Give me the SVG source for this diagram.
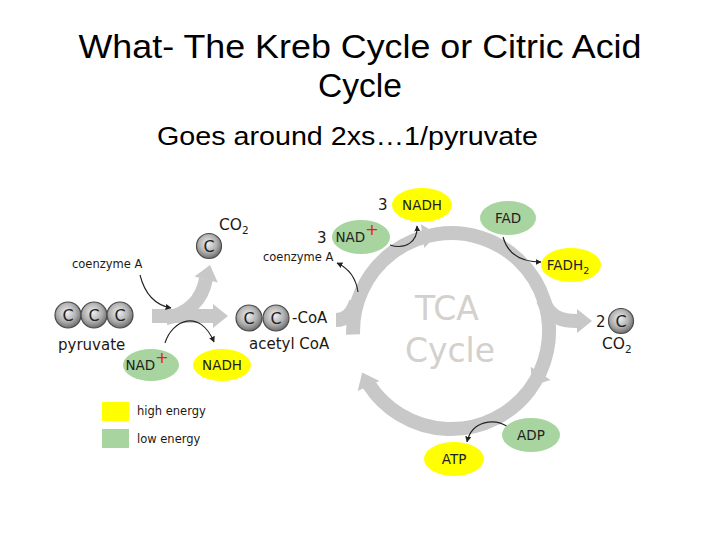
<svg xmlns="http://www.w3.org/2000/svg" xmlns:xlink="http://www.w3.org/1999/xlink" width="720" height="540" viewBox="0 0 720 540">
<defs>
<style>
.title{font-family:"Liberation Sans",Arial,sans-serif;fill:#000}
.lbl{font-family:"DejaVu Sans",sans-serif;fill:#1e1812}
.node{font-family:"DejaVu Sans",sans-serif;font-size:13.5px;fill:#222;text-anchor:middle}
.hi{fill:#ffff00}
.lo{fill:#a8d4a0}
.ring{fill:none;stroke:#c8c8c8;stroke-width:14}
.gh{fill:#c8c8c8}
.thin{fill:none;stroke:#222;stroke-width:1.1;marker-end:url(#ah)}
.cball{fill:url(#cg);stroke:#4a4a4a;stroke-width:1.2}
.cl{font-family:"DejaVu Sans",sans-serif;font-size:16px;fill:#222;text-anchor:middle}
.tca{font-family:"DejaVu Sans",sans-serif;font-size:33px;fill:#d4d0cc;text-anchor:middle}
</style>
<radialGradient id="cg" cx="0.45" cy="0.4" r="0.6">
<stop offset="0" stop-color="#f0f0f0"/>
<stop offset="0.6" stop-color="#b0b0b0"/>
<stop offset="1" stop-color="#6e6e6e"/>
</radialGradient>
<marker id="ah" viewBox="0 0 10 10" refX="9" refY="5" markerWidth="6" markerHeight="6" orient="auto" markerUnits="userSpaceOnUse">
<path d="M0,0 L10,5 L0,10 Z" fill="#222"/>
</marker>
<path id="gh" d="M0,0 L-15,-12 L-15,12 Z"/>
</defs>
<rect width="720" height="540" fill="#fff"/>

<g id="title">
<text class="title" x="360" y="58" font-size="34" text-anchor="middle" textLength="563" lengthAdjust="spacingAndGlyphs">What- The Kreb Cycle or Citric Acid</text>
<text class="title" x="360" y="97" font-size="34" text-anchor="middle" textLength="84" lengthAdjust="spacingAndGlyphs">Cycle</text>
<text class="title" x="157" y="145" font-size="26" textLength="381" lengthAdjust="spacingAndGlyphs">Goes around 2xs…1/pyruvate</text>
</g>

<g id="connectors">
<path class="ring" d="M152 316 L214 316"/>
<use href="#gh" class="gh" transform="translate(228,316)"/>
<path class="ring" d="M166 318 C188 314 202 300 206 279"/>
<use href="#gh" class="gh" transform="translate(210,265) rotate(-75)"/>
<path class="ring" d="M353.1 334.4 A98 98 0 1 1 368.8 384.4"/>
<use href="#gh" class="gh" transform="translate(362.2,372.4) rotate(245)"/>
<use href="#gh" class="gh" transform="translate(437.4,234) rotate(352)"/>
<use href="#gh" class="gh" transform="translate(532.2,385.8) rotate(124)"/>
<path class="ring" d="M336 320 C346 320 352 314 356 302"/>
<path class="ring" d="M543 300 C550 318 562 321 577 321"/>
<use href="#gh" class="gh" transform="translate(592,321)"/>
<path class="thin" d="M140 275 C145 295 155 305 171 308"/>
<path class="thin" d="M165 343 C172 320 200 308 214 342"/>
<path class="thin" d="M358 292 C356 278 348 268 337 263"/>
<path class="thin" d="M390 245 C405 250 418 242 417 226"/>
<path class="thin" d="M503 237 C508 255 522 262 541 262"/>
<path class="thin" d="M508 427 C495 418 472 420 467 442"/>
</g>

<g id="tca-label">
<text class="tca" x="447" y="320">TCA</text>
<text class="tca" x="450" y="362">Cycle</text>
</g>

<g id="pyruvate">
<circle class="cball" cx="68" cy="315" r="13"/>
<circle class="cball" cx="94" cy="315" r="13"/>
<circle class="cball" cx="120" cy="315" r="13"/>
<text class="cl" x="68" y="321">C</text>
<text class="cl" x="94" y="321">C</text>
<text class="cl" x="120" y="321">C</text>
<text class="lbl" x="58" y="350" font-size="15">pyruvate</text>
</g>

<g id="coenzymeA-1">
<text class="lbl" x="72" y="268" font-size="11.5">coenzyme A</text>
</g>

<g id="co2-top">
<circle class="cball" cx="209" cy="246" r="12.5"/>
<text class="cl" x="209" y="252">C</text>
<text class="lbl" x="219" y="230" font-size="15.5">CO<tspan font-size="10.5" dy="4">2</tspan></text>
</g>

<g id="nad-left">
<ellipse class="lo" cx="151" cy="365" rx="28" ry="16"/>
<text class="node" x="147" y="370">NAD<tspan fill="#e02020" font-size="16" dy="-7">+</tspan></text>
</g>
<g id="nadh-left">
<ellipse class="hi" cx="222" cy="365" rx="29" ry="16"/>
<text class="node" x="222" y="370">NADH</text>
</g>

<g id="acetyl">
<circle class="cball" cx="249" cy="318" r="13"/>
<circle class="cball" cx="276" cy="318" r="13"/>
<text class="cl" x="249" y="324">C</text>
<text class="cl" x="276" y="324">C</text>
<text class="lbl" x="292" y="323" font-size="15" fill="#111">-CoA</text>
<text class="lbl" x="249" y="349" font-size="15">acetyl CoA</text>
</g>

<g id="coenzymeA-2">
<text class="lbl" x="263" y="261" font-size="11.5">coenzyme A</text>
</g>

<g id="nad-top">
<text class="lbl" x="317" y="243" font-size="15">3</text>
<ellipse class="lo" cx="361" cy="237" rx="29" ry="17"/>
<text class="node" x="357" y="242">NAD<tspan fill="#e02020" font-size="16" dy="-7">+</tspan></text>
</g>
<g id="nadh-top">
<text class="lbl" x="378" y="210" font-size="15">3</text>
<ellipse class="hi" cx="422" cy="205" rx="30" ry="17"/>
<text class="node" x="422" y="210">NADH</text>
</g>

<g id="fad">
<ellipse class="lo" cx="508" cy="218" rx="28" ry="17"/>
<text class="node" x="508" y="223">FAD</text>
</g>
<g id="fadh2">
<ellipse class="hi" cx="571" cy="265" rx="30" ry="17"/>
<text class="node" x="568" y="270">FADH<tspan font-size="9.5" dy="4">2</tspan></text>
</g>

<g id="co2-right">
<text class="lbl" x="596" y="327" font-size="15">2</text>
<circle class="cball" cx="621" cy="321" r="12.5"/>
<text class="cl" x="621" y="327">C</text>
<text class="lbl" x="602" y="349" font-size="15.5">CO<tspan font-size="10.5" dy="4">2</tspan></text>
</g>

<g id="adp">
<ellipse class="lo" cx="531" cy="435" rx="29" ry="17"/>
<text class="node" x="531" y="440">ADP</text>
</g>
<g id="atp">
<ellipse class="hi" cx="454" cy="459" rx="30" ry="17"/>
<text class="node" x="454" y="464">ATP</text>
</g>

<g id="legend">
<rect class="hi" x="102" y="402" width="27" height="19"/>
<rect class="lo" x="102" y="429" width="27" height="19"/>
<text class="lbl" x="137" y="415" font-size="11.5">high energy</text>
<text class="lbl" x="137" y="443" font-size="11.5">low energy</text>
</g>
</svg>
